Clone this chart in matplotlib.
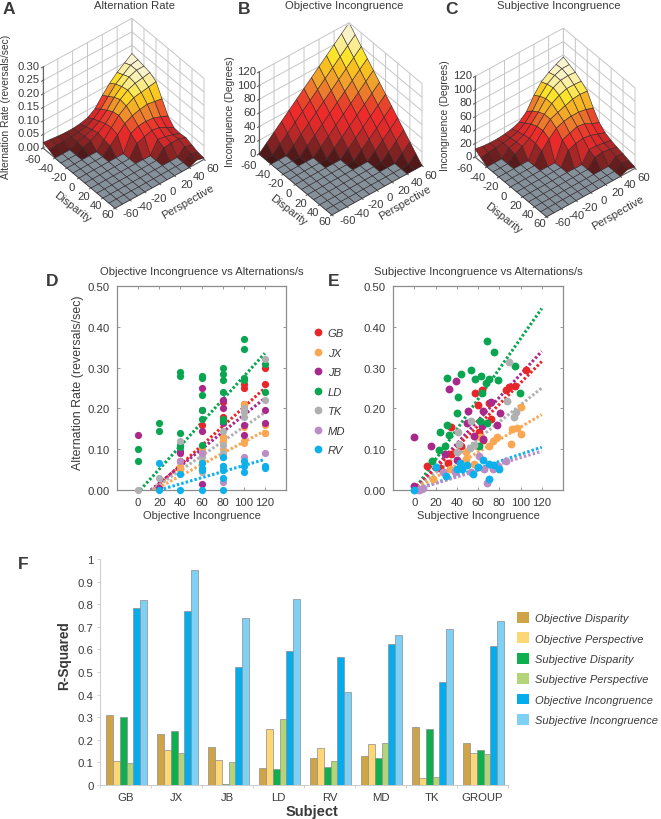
import numpy as np
import matplotlib
matplotlib.use('Agg')
import matplotlib.pyplot as plt
from matplotlib.colors import LinearSegmentedColormap, Normalize, to_rgba
from matplotlib.patches import Patch
from matplotlib.lines import Line2D
from mpl_toolkits.mplot3d import proj3d

plt.rcParams['font.family'] = ['Liberation Sans', 'DejaVu Sans']
plt.rcParams['text.color'] = '#3a3a3a'
plt.rcParams['axes.labelcolor'] = '#3a3a3a'
plt.rcParams['xtick.labelcolor'] = '#3a3a3a'
plt.rcParams['ytick.labelcolor'] = '#3a3a3a'
plt.rcParams['grid.color'] = '#c6c6c6'
plt.rcParams['grid.linewidth'] = 0.7
plt.rcParams['axes.unicode_minus'] = False

W, H = 661, 820

# surfaces: rows are disparity -60..60, columns are perspective -60..60
grid_vals = [-60, -50, -40, -30, -20, -10, 0, 10, 20, 30, 40, 50, 60]
axis_ticks = [-60, -40, -20, 0, 20, 40, 60]

alt_rate = [
    [.020, .017, .014, .012, .012, .015, .022, .040, .075, .105, .130, .150, .170],
    [.012, .014, .013, .014, .016, .022, .036, .058, .090, .120, .140, .160, .165],
    [0, 0, 0, .014, .020, .030, .046, .072, .105, .130, .150, .160, .160],
    [0, 0, 0, .012, .022, .036, .056, .085, .115, .135, .145, .150, .155],
    [0, 0, 0, 0, 0, .030, .060, .090, .110, .125, .130, .135, .140],
    [0, 0, 0, 0, 0, .026, .052, .078, .092, .100, .105, .100, .095],
    [0, 0, 0, 0, 0, 0, 0, .060, .072, .075, .072, .062, .050],
    [0, 0, 0, 0, 0, 0, 0, .042, .052, .060, .055, .040, .025],
    [0, 0, 0, 0, 0, 0, 0, 0, 0, .045, .040, .032, .022],
    [0, 0, 0, 0, 0, 0, 0, 0, 0, .032, .035, .035, .025],
    [0, 0, 0, 0, 0, 0, 0, 0, 0, 0, 0, .025, .016],
    [0, 0, 0, 0, 0, 0, 0, 0, 0, 0, 0, .018, .008],
    [0, 0, 0, 0, 0, 0, 0, 0, 0, 0, 0, .012, .005],
]
obj_incong = [
    [0, 10, 20, 30, 40, 50, 60, 70, 80, 90, 100, 110, 120],
    [0, 0, 10, 20, 30, 40, 50, 60, 70, 80, 90, 100, 110],
    [0, 0, 0, 10, 20, 30, 40, 50, 60, 70, 80, 90, 100],
    [0, 0, 0, 0, 10, 20, 30, 40, 50, 60, 70, 80, 90],
    [0, 0, 0, 0, 0, 10, 20, 30, 40, 50, 60, 70, 80],
    [0, 0, 0, 0, 0, 0, 10, 20, 30, 40, 50, 60, 70],
    [0, 0, 0, 0, 0, 0, 0, 10, 20, 30, 40, 50, 60],
    [0, 0, 0, 0, 0, 0, 0, 0, 10, 20, 30, 40, 50],
    [0, 0, 0, 0, 0, 0, 0, 0, 0, 10, 20, 30, 40],
    [0, 0, 0, 0, 0, 0, 0, 0, 0, 0, 10, 20, 30],
    [0, 0, 0, 0, 0, 0, 0, 0, 0, 0, 0, 10, 20],
    [0, 0, 0, 0, 0, 0, 0, 0, 0, 0, 0, 0, 10],
    [0, 0, 0, 0, 0, 0, 0, 0, 0, 0, 0, 0, 0],
]
subj_incong = [
    [12, 10, 9, 9, 10, 12, 16, 26, 44, 58, 66, 72, 77],
    [6, 8, 9, 10, 12, 15, 22, 34, 50, 62, 69, 73, 73],
    [0, 0, 0, 10, 13, 18, 28, 40, 54, 64, 69, 70, 69],
    [0, 0, 0, 8, 14, 20, 32, 44, 54, 60, 64, 64, 63],
    [0, 0, 0, 0, 0, 20, 33, 44, 48, 52, 56, 57, 56],
    [0, 0, 0, 0, 0, 16, 28, 38, 42, 44, 44, 42, 38],
    [0, 0, 0, 0, 0, 0, 0, 28, 32, 36, 34, 28, 24],
    [0, 0, 0, 0, 0, 0, 0, 20, 24, 26, 24, 20, 16],
    [0, 0, 0, 0, 0, 0, 0, 0, 0, 16, 16, 14, 12],
    [0, 0, 0, 0, 0, 0, 0, 0, 0, 12, 14, 12, 9],
    [0, 0, 0, 0, 0, 0, 0, 0, 0, 0, 0, 9, 7],
    [0, 0, 0, 0, 0, 0, 0, 0, 0, 0, 0, 6, 4],
    [0, 0, 0, 0, 0, 0, 0, 0, 0, 0, 0, 4, 2],
]
rate_ticks = [0.00, 0.05, 0.10, 0.15, 0.20, 0.25, 0.30]
rate_labels = ['0.00', '0.05', '0.10', '0.15', '0.20', '0.25', '0.30']
incong_ticks = [0, 20, 40, 60, 80, 100, 120]

# scatter data, subject -> (x, y)
subjects = ['GB', 'JX', 'JB', 'LD', 'TK', 'MD', 'RV']
subject_colors = ['#e8262a', '#f9a752', '#a9288c', '#0aa551', '#aeb0b2', '#bb8dc5', '#0db0ea']

obj_x = {
    'GB': [40, 60, 60, 80, 80, 80, 80, 100, 100, 100, 120, 120],
    'JX': [40, 40, 60, 60, 60, 60, 80, 80, 80, 100, 100, 100, 100, 100, 120, 120, 120],
    'JB': [0, 20, 40, 40, 60, 60, 60, 60, 80, 80, 80, 100, 100, 120, 120],
    'LD': [0, 0, 20, 20, 40, 40, 40, 40, 40, 60, 60, 60, 60, 60, 60, 80, 80, 80, 80, 80, 80,
           100, 100, 100, 100, 120, 120],
    'TK': [0, 20, 40, 60, 60, 80, 80, 80, 80, 100, 100, 100, 120, 120],
    'MD': [40, 60, 80, 80, 100, 120],
    'RV': [20, 20, 40, 40, 60, 60, 60, 60, 80, 80, 80, 80, 80, 100, 100, 100, 120, 120],
}
obj_y = {
    'GB': [.07, .16, .10, .215, .18, .175, .13, .25, .26, .21, .26, .30],
    'JX': [.05, .06, .09, .10, .07, .05, .13, .12, .10, .115, .12, .155, .21, .205, .14, .16, .14],
    'JB': [.135, .005, .095, .09, .25, .195, .145, .015, .22, .20, .165, .16, .135, .195, .165],
    'LD': [.10, .07, .165, .145, .29, .28, .14, .11, .105, .28, .275, .233, .195, .175, .11,
           .30, .285, .27, .24, .175, .17, .37, .345, .275, .27, .31, .24],
    'TK': [0, .03, .12, .08, .045, .145, .11, .09, .08, .20, .18, .19, .32, .22],
    'MD': [.07, .09, .02, .06, .08, .09],
    'RV': [.065, 0, .04, 0, .065, .055, .05, 0, .08, .06, .05, .03, 0, .07, .06, .045, .06, .055],
}
subj_x = {
    'GB': [105, 95, 89, 86, 64, 57, 60, 70, 72, 35, 61, 65, 44, 35, 12, 32, 24],
    'JX': [100, 91, 100, 92, 97, 78, 74, 70, 62, 59, 49, 49, 18, 34, 56],
    'JB': [0, 15.5, 39.5, 33, 51, 72, 65, 81, 78, 50, 64, 56, 65, 29, 40, 0],
    'LD': [68, 75, 95, 53, 31, 44, 57.5, 63, 70, 79, 67.5, 99.5, 64, 41, 40, 31, 24, 33, 23, 29,
           17, 68.5, 60.5, 62],
    'TK': [89, 87.5, 96, 94, 41, 53, 42, 40, 56, 52, 7, 38],
    'MD': [68, 60.5, 66, 74, 86, 79, 8.5, 27, 38.5, 4, 53],
    'RV': [70, 65, 70, 75, 80, 60, 55, 50, 45, 40, 30, 20, 0, 43],
}
subj_y = {
    'GB': [.295, .256, .252, .246, .246, .237, .208, .213, .175, .155, .143, .122, .107, .088,
           .059, .066, .055],
    'JX': [.137, .112, .204, .149, .153, .13, .12, .108, .131, .107, .093, .075, .026, .051, .063],
    'JB': [.131, .108, .266, .247, .194, .216, .193, .188, .16, .165, .157, .133, .125, .089,
           .074, .011],
    'LD': [.366, .338, .303, .295, .275, .284, .272, .279, .272, .27, .262, .237, .237, .229,
           .188, .16, .141, .135, .097, .108, .07, .165, .108, .17],
    'TK': [.313, .217, .192, .18, .143, .168, .112, .093, .11, .104, .002, .05],
    'MD': [.016, .084, .051, .051, .07, .059, .006, .043, .044, 0, .043],
    'RV': [.026, .074, .064, .062, .051, .057, .04, .061, .051, .052, .034, .057, 0, .066],
}

# fit lines as x0, y0, x1, y1
obj_fit_names = ['LD', 'GB', 'JB', 'TK', 'JX', 'RV']
obj_fit_x0 = [2, 14, 12, 13, 15, 20]
obj_fit_y1 = [.335, .25, .225, .19, .145, .075]
subj_fit_names = ['LD', 'JB', 'GB', 'TK', 'JX', 'RV', 'MD']
subj_fit_x0 = [0, 0, 0, 0, 0, 0, 0]
subj_fit_y1 = [.445, .34, .315, .25, .185, .105, .095]

# bars
bar_groups = ['GB', 'JX', 'JB', 'LD', 'RV', 'MD', 'TK', 'GROUP']
bar_names = ['Objective Disparity', 'Objective Perspective', 'Subjective Disparity',
             'Subjective Perspective', 'Objective Incongruence', 'Subjective Incongruence']
bar_colors = ['#cfa347', '#fdd775', '#0fae4f', '#b3d478', '#05aceb', '#7fd0f5']
obj_disp = [.31, .225, .17, .075, .12, .127, .255, .185]
obj_pers = [.105, .155, .11, .25, .163, .183, .03, .143]
subj_disp = [.30, .24, .003, .07, .08, .12, .25, .153]
subj_pers = [.097, .14, .10, .29, .105, .187, .035, .138]
obj_inc = [.785, .77, .523, .592, .567, .625, .457, .617]
subj_inc = [.82, .953, .74, .825, .41, .663, .69, .727]
bar_series = [obj_disp, obj_pers, subj_disp, subj_pers, obj_inc, subj_inc]

surf_cmap = LinearSegmentedColormap.from_list('surf', [
    (0.0, '#451616'), (0.08, '#7f2222'), (0.17, '#bb2828'), (0.25, '#e02a2a'),
    (0.33, '#ee2a2a'), (0.42, '#e8452c'), (0.5, '#ec7a2c'), (0.58, '#f0a02a'),
    (0.67, '#f8c020'), (0.75, '#fde428'), (0.83, '#f9ec90'), (0.92, '#f8f3c8'), (1.0, '#f8f4d8')])
floor_color = '#84919a'
edge_color = '#33262a'

# offsets of the floor tick labels, in pixels
disp_offsets = [(-10, -11), (-9, -10), (-8, -9), (-7, -9), (-7, -8), (-7, -7), (-7, -6)]
pers_offsets = [(16, -5), (15, -6), (14, -6), (13, -7), (12, -8), (10, -8), (9, -9)]

fig = plt.figure(figsize=(W / 100, H / 100), dpi=100)


def fx(x):
    return x / W


def fy(y):
    return 1 - y / H


def fit_box(ax, left, right):
    # move the 3d axes so the floor corners land on the wanted pixels
    def corners():
        fig.canvas.draw()
        M = ax.get_proj()
        out = []
        for xs, ys in [(-60, -60), (60, 60)]:
            X, Y, _ = proj3d.proj_transform(xs, ys, ax.get_zlim()[0], M)
            out.append(ax.transData.transform((X, Y)))
        return out
    a, b = corners()
    pos = ax.get_position()
    size = pos.width * W * (right[0] - left[0]) / (b[0] - a[0])
    ax.set_position([pos.x0, pos.y0, size / W, size / H])
    a, b = corners()
    pos = ax.get_position()
    dx = left[0] - a[0]
    dy = (H - left[1]) - a[1]
    ax.set_position([pos.x0 + dx / W, pos.y0 + dy / H, pos.width, pos.height])


def tick_text(ax, x, y, z, label, offset, ha):
    X, Y, _ = proj3d.proj_transform(x, y, z, ax.get_proj())
    ax.annotate(label, xy=(X, Y), xytext=offset, textcoords='offset pixels', ha=ha, va='center',
                fontsize=8.1, annotation_clip=False)


def surface(z, zmax, zticks, zlabels, left, right):
    ax = fig.add_axes([0.1, 0.7, 0.3, 0.3 * W / H], projection='3d', proj_type='ortho')
    ax.set_facecolor('none')
    ax.view_init(elev=42.5, azim=-39)
    ax.set_box_aspect((1, 1, 0.96))
    d, p = np.meshgrid(grid_vals, grid_vals, indexing='ij')
    z = np.array(z, dtype=float)
    norm = Normalize(0, np.max(z))
    n = len(grid_vals) - 1
    colors = np.zeros((n, n, 4))
    for a in range(n):
        for b in range(n):
            if b // 2 >= a // 2:
                colors[a, b] = surf_cmap(norm(z[a:a + 2, b:b + 2].mean()))
            else:
                colors[a, b] = to_rgba(floor_color)
    ax.plot_surface(d, p, z, rstride=1, cstride=1, facecolors=colors, shade=False,
                    edgecolor=edge_color, linewidth=0.4, antialiased=True)
    ax.set_xlim(-60, 60)
    ax.set_ylim(-60, 60)
    ax.set_zlim(0, zmax)
    ax.set_xticks(axis_ticks)
    ax.set_yticks(axis_ticks)
    ax.set_zticks(zticks)
    ax.set_xticklabels([])
    ax.set_yticklabels([])
    ax.set_zticklabels([])
    for axis in (ax.xaxis, ax.yaxis, ax.zaxis):
        axis.set_pane_color((1, 1, 1, 0))
        axis.pane.set_edgecolor('#9a9a9a')
        axis.line.set_color('#666666')
        axis.line.set_linewidth(0.8)
    ax.zaxis.set_ticks_position('lower')
    ax.tick_params(colors='#666666')
    fit_box(ax, left, right)
    for v, off in zip(axis_ticks, disp_offsets):
        tick_text(ax, v, -60, 0, str(v), off, 'center')
    for v, off in zip(axis_ticks, pers_offsets):
        tick_text(ax, 60, v, 0, str(v), off, 'center')
    for v, s in zip(zticks, zlabels):
        tick_text(ax, -60, -60, v, s, (-3, 1), 'right')
    return ax


surface(alt_rate, 0.30, rate_ticks, rate_labels, (43, 149), (204, 159))
surface(obj_incong, 120, incong_ticks, [str(v) for v in incong_ticks], (259, 155), (422, 163))
surface(subj_incong, 120, incong_ticks, [str(v) for v in incong_ticks], (475, 158), (635, 168))

# text around the surfaces
titles = ['Alternation Rate', 'Objective Incongruence', 'Subjective Incongruence']
title_xy = [(134, 6), (344, 6), (559, 6)]
for t, (x, y) in zip(titles, title_xy):
    fig.text(fx(x), fy(y), t, ha='center', va='center', fontsize=8.1)
zlabels = ['Alternation Rate (reversals/sec)', 'Incongruence (Degrees)', 'Incongruence (Degrees)']
zlabel_xy = [(6, 107), (230, 112), (445, 116)]
for t, (x, y) in zip(zlabels, zlabel_xy):
    fig.text(fx(x), fy(y), t, ha='center', va='center', rotation=90, fontsize=7.4)
for x, y in [(72, 207), (288, 210), (503, 218)]:
    fig.text(fx(x), fy(y), 'Disparity', ha='center', va='center', rotation=-38, fontsize=8)
for x, y in [(188, 202), (405, 203), (618, 213)]:
    fig.text(fx(x), fy(y), 'Perspective', ha='center', va='center', rotation=30, fontsize=8)

letters = ['A', 'B', 'C', 'D', 'E', 'F']
letter_xy = [(3, 10), (238, 10), (445, 10), (46, 282), (328, 282), (18, 565)]
for t, (x, y) in zip(letters, letter_xy):
    fig.text(fx(x), fy(y), t, ha='left', va='center', fontsize=12.5, fontweight='bold')


def scatter_panel(left, right, xs, ys, fit_names, fit_x0, fit_y1, title, xlabel, size):
    ax = fig.add_axes([fx(left), fy(491), (right - left) / W, 204 / H])
    for name, x0, y1 in zip(fit_names, fit_x0, fit_y1):
        c = subject_colors[subjects.index(name)]
        ax.plot([x0, 120], [0, y1], color=c, lw=2.2, ls=(0, (0.8, 0.7)), zorder=2)
    for name, c in zip(subjects, subject_colors):
        ax.scatter(xs[name], ys[name], s=size, color=c, linewidths=0, zorder=3, clip_on=False)
    ax.set_xlim(-20, 140)
    ax.set_ylim(0, 0.5)
    ax.set_xticks([0, 20, 40, 60, 80, 100, 120])
    ax.set_yticks([0, .1, .2, .3, .4, .5])
    ax.set_yticklabels(['0.00', '0.10', '0.20', '0.30', '0.40', '0.50'])
    ax.tick_params(direction='in', top=True, right=True, length=2, width=0.6, color='#888888',
                   labelsize=8.2, pad=5)
    for s in ax.spines.values():
        s.set_color('#8c8c8c')
        s.set_linewidth(0.9)
    ax.set_title(title, fontsize=8.1, pad=8.5)
    ax.set_xlabel(xlabel, fontsize=8.0, labelpad=2)
    return ax


ax_d = scatter_panel(117, 286, obj_x, obj_y, obj_fit_names, obj_fit_x0, obj_fit_y1,
                     'Objective Incongruence vs Alternations/s', 'Objective Incongruence', 27)
ax_d.set_ylabel('Alternation Rate (reversals/sec)', fontsize=8.9, labelpad=3, y=0.53)
ax_e = scatter_panel(393, 563, subj_x, subj_y, subj_fit_names, subj_fit_x0, subj_fit_y1,
                     'Subjective Incongruence vs Alternations/s', 'Subjective Incongruence', 32)

handles = [Line2D([], [], ls='', marker='o', ms=5.6, mfc=c, mec='none') for c in subject_colors]
leg = fig.legend(handles, subjects, loc='upper left', bbox_to_anchor=(fx(309), fy(329)),
                 frameon=False, labelspacing=0.85, handletextpad=0.05,
                 handlelength=1.6, borderpad=0, borderaxespad=0, prop={'style': 'italic', 'size': 8.1})

# R-squared bars
ax_f = fig.add_axes([fx(100), fy(786), 408 / W, 226 / H])
centers = np.arange(len(bar_groups))
bw = 0.134
for j, (vals, c) in enumerate(zip(bar_series, bar_colors)):
    ax_f.bar(centers + (j - 2.5) * bw + 0.02, vals, width=bw, color=c, edgecolor='#8d8d8d', linewidth=0.5)
ax_f.set_xlim(-0.5, 7.5)
ax_f.set_ylim(0, 1)
ax_f.set_yticks(np.arange(0, 11) / 10)
ax_f.set_yticklabels(['0', '0.1', '0.2', '0.3', '0.4', '0.5', '0.6', '0.7', '0.8', '0.9', '1'])
ax_f.set_xticks(np.arange(0, 9) - 0.5)
ax_f.set_xticklabels([])
ax_f.set_xticks(centers, labels=bar_groups, minor=True)
ax_f.tick_params(axis='x', which='major', length=2.5, width=0.6, color='#cccccc')
ax_f.tick_params(axis='x', which='minor', length=0, labelsize=8.2, pad=5)
ax_f.tick_params(axis='y', length=2.5, width=0.6, color='#cccccc', labelsize=8.2, pad=2)
for s in ['top', 'right']:
    ax_f.spines[s].set_visible(False)
for s in ['left', 'bottom']:
    ax_f.spines[s].set_color('#cccccc')
    ax_f.spines[s].set_linewidth(0.7)
ax_f.set_ylabel('R-Squared', fontsize=9.8, fontweight='bold', labelpad=4.7, y=0.575)
fig.text(fx(312), fy(812), 'Subject', ha='center', va='center', fontsize=10.5, fontweight='bold')

patches = [Patch(facecolor=c, edgecolor='none') for c in bar_colors]
fig.legend(patches, bar_names, loc='upper left', bbox_to_anchor=(fx(517), fy(613)), frameon=False,
           labelspacing=0.84, handlelength=1.1, handleheight=1.1, handletextpad=0.5,
           borderpad=0, borderaxespad=0, prop={'style': 'italic', 'size': 8.0})

fig.savefig('out.png', dpi=100)
